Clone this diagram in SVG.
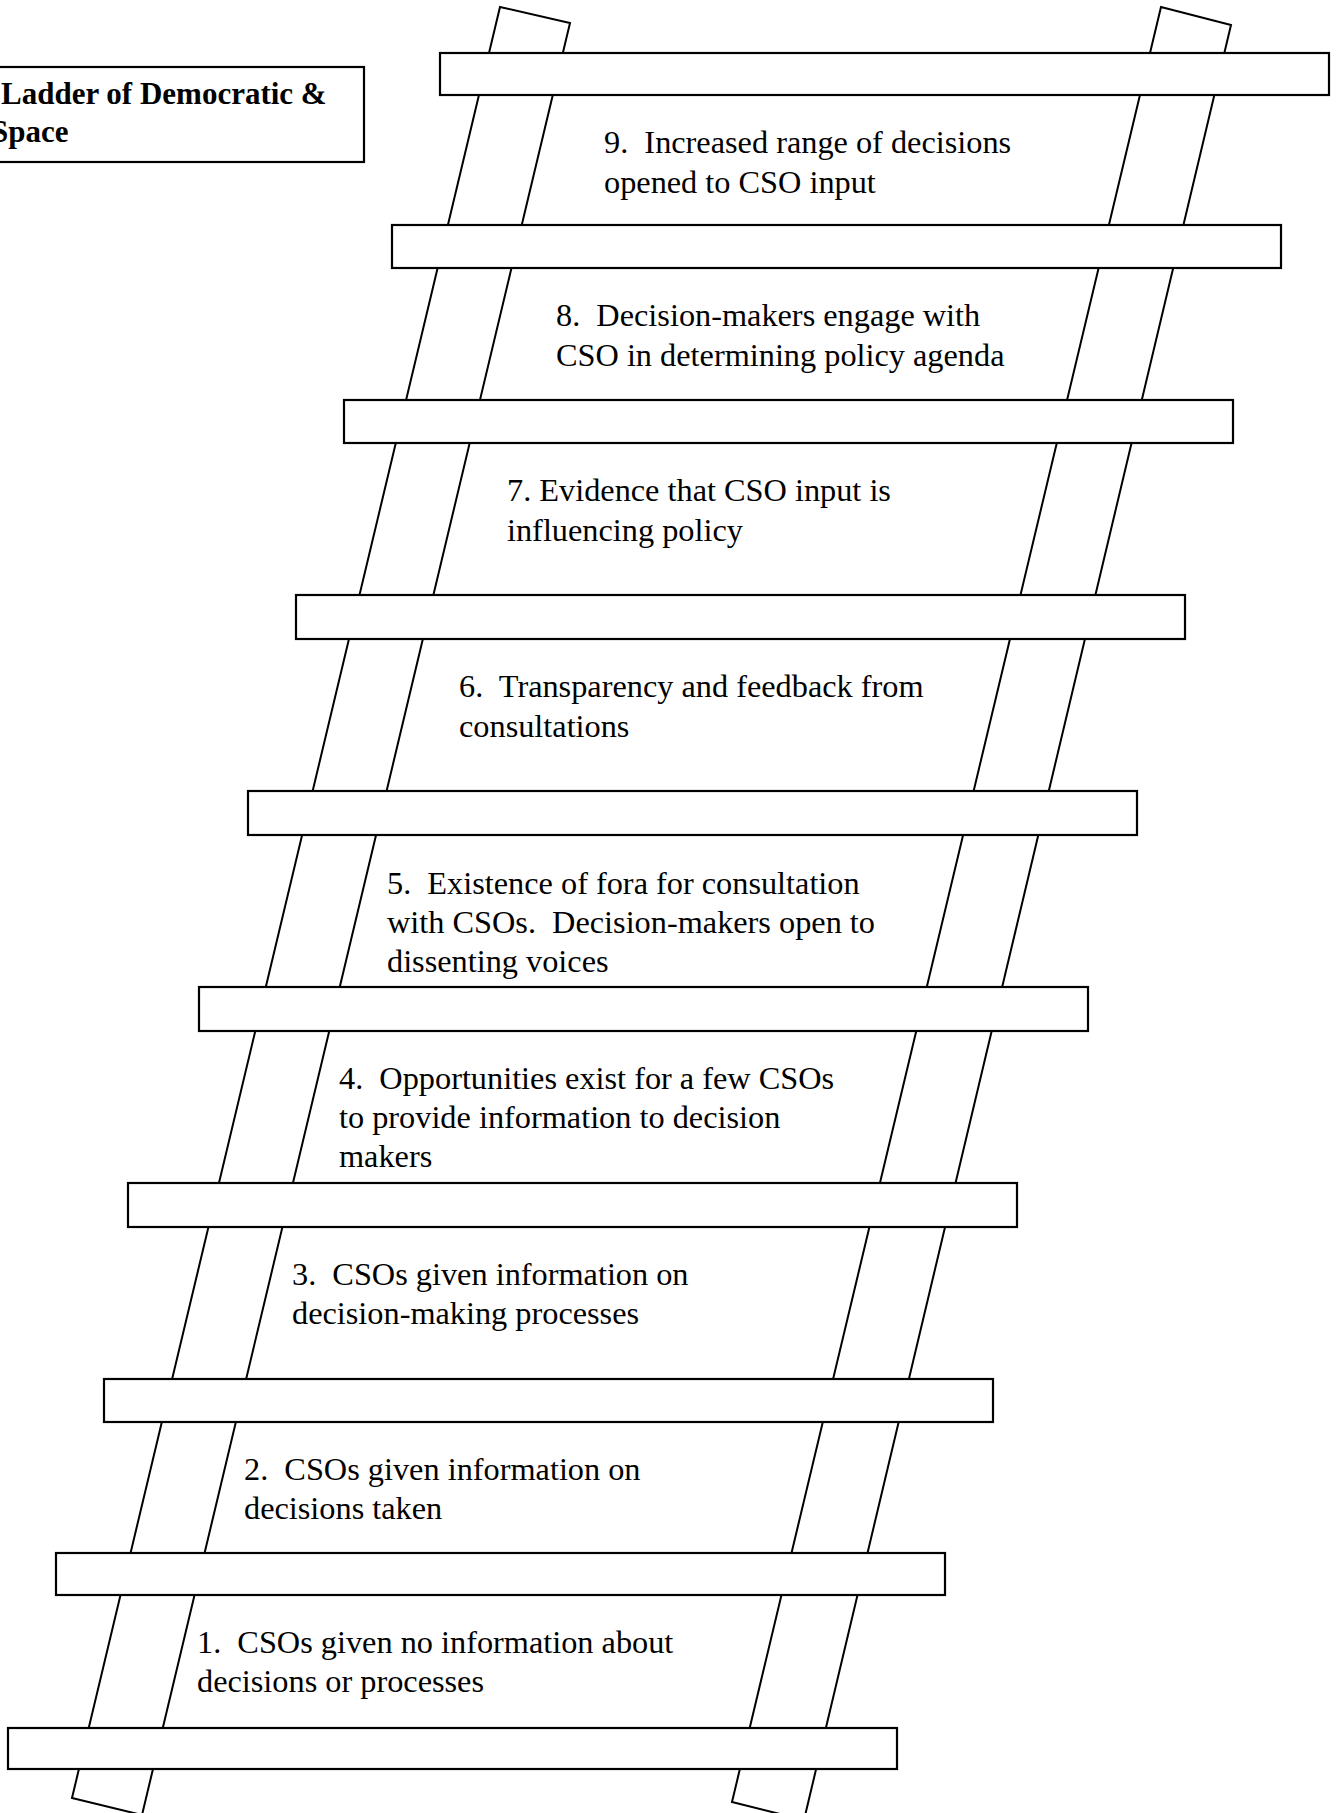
<svg xmlns="http://www.w3.org/2000/svg" width="1340" height="1813" viewBox="0 0 1340 1813">
<style>
.rail{fill:#fff;stroke:#000;stroke-width:2}
.rung{fill:#fff;stroke:#000;stroke-width:2.2}
.lbl{font-family:"Liberation Serif","Times New Roman",serif;font-size:32.3px;fill:#000;white-space:pre}
.ttl{font-family:"Liberation Serif","Times New Roman",serif;font-size:31px;font-weight:bold;fill:#000;white-space:pre}
</style>
<rect x="0" y="0" width="1340" height="1813" fill="#fff"/>
<g id="rails">
<polygon class="rail" points="500,7 570,23 142,1815 72,1798"/>
<polygon class="rail" points="1161,7 1231,25 804,1820 732,1802"/>
</g>
<g id="rungs">
<rect class="rung" x="440" y="53" width="889" height="42"/>
<rect class="rung" x="392" y="225" width="889" height="43"/>
<rect class="rung" x="344" y="400" width="889" height="43"/>
<rect class="rung" x="296" y="595" width="889" height="44"/>
<rect class="rung" x="248" y="791" width="889" height="44"/>
<rect class="rung" x="199" y="987" width="889" height="44"/>
<rect class="rung" x="128" y="1183" width="889" height="44"/>
<rect class="rung" x="104" y="1379" width="889" height="43"/>
<rect class="rung" x="56" y="1553" width="889" height="42"/>
<rect class="rung" x="8" y="1728" width="889" height="41"/>
</g>
<g id="title">
<rect x="-10" y="67" width="374" height="95" fill="#fff" stroke="#000" stroke-width="2.2"/>
<text class="ttl" x="1" y="104">Ladder of Democratic &amp;</text>
<text class="ttl" x="-9" y="142">Space</text>
</g>
<g id="step9"><text class="lbl" x="604" y="153">9.  Increased range of decisions</text><text class="lbl" x="604" y="193">opened to CSO input</text></g>
<g id="step8"><text class="lbl" x="556" y="326">8.  Decision-makers engage with</text><text class="lbl" x="556" y="366">CSO in determining policy agenda</text></g>
<g id="step7"><text class="lbl" x="507" y="501">7. Evidence that CSO input is</text><text class="lbl" x="507" y="541">influencing policy</text></g>
<g id="step6"><text class="lbl" x="459" y="697">6.  Transparency and feedback from</text><text class="lbl" x="459" y="737">consultations</text></g>
<g id="step5"><text class="lbl" x="387" y="894">5.  Existence of fora for consultation</text><text class="lbl" x="387" y="933">with CSOs.  Decision-makers open to</text><text class="lbl" x="387" y="972">dissenting voices</text></g>
<g id="step4"><text class="lbl" x="339" y="1089">4.  Opportunities exist for a few CSOs</text><text class="lbl" x="339" y="1128">to provide information to decision</text><text class="lbl" x="339" y="1167">makers</text></g>
<g id="step3"><text class="lbl" x="292" y="1285">3.  CSOs given information on</text><text class="lbl" x="292" y="1324">decision-making processes</text></g>
<g id="step2"><text class="lbl" x="244" y="1480">2.  CSOs given information on</text><text class="lbl" x="244" y="1519">decisions taken</text></g>
<g id="step1"><text class="lbl" x="197" y="1653">1.  CSOs given no information about</text><text class="lbl" x="197" y="1692">decisions or processes</text></g>
</svg>
